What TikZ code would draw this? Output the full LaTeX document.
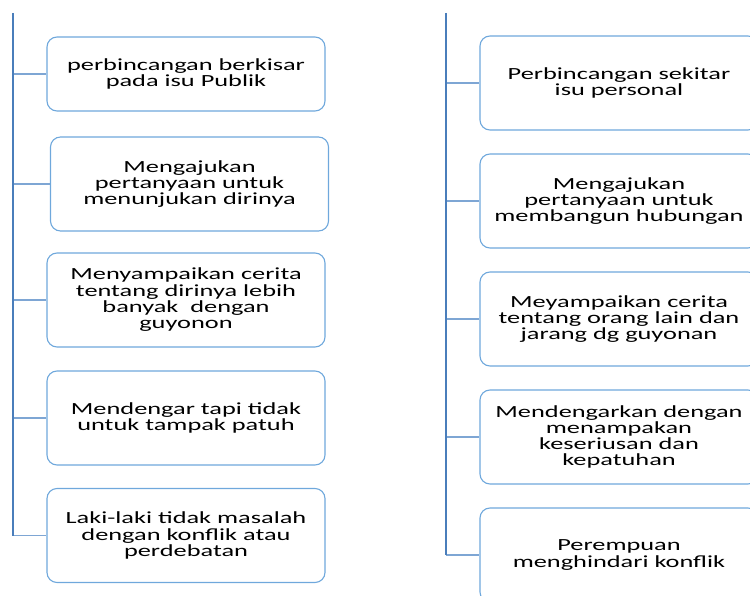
\documentclass[tikz,border=0pt]{standalone}
\usepackage{fontspec}
\setmainfont[FakeStretch=1.55]{Carlito}
\definecolor{stem}{HTML}{4A7EBB}
\definecolor{twig}{HTML}{7EA6D4}
\definecolor{rim}{HTML}{6FA8DC}
\begin{document}
\begin{tikzpicture}[x=1pt,y=-1pt,
  kotak/.style={draw=rim,line width=1.1pt,rounded corners=10pt,minimum width=278pt,align=center,
    font=\fontsize{17}{16.3}\selectfont,inner sep=0pt},
  batang/.style={stem,line width=1.8pt},
  ranting/.style={twig,line width=1.1pt}]
\clip (0,0) rectangle (750,596);
\useasboundingbox (0,0) rectangle (750,596);
\coordinate (ltop) at (13,13);
\coordinate (rtop) at (446,13);
\node[kotak,minimum height=74pt](l1)at(186,74){perbincangan berkisar\\pada isu Publik};
\node[kotak,minimum height=94pt](l2)at(189.5,184){Mengajukan\\pertanyaan untuk\\menunjukan dirinya};
\node[kotak,minimum height=94pt](l3)at(186,300){Menyampaikan cerita\\tentang dirinya lebih\\banyak\ \ dengan\\guyonon};
\node[kotak,minimum height=94pt](l4)at(186,418){Mendengar tapi tidak\\untuk tampak patuh};
\node[kotak,minimum height=94pt](l5)at(186,535.5){Laki-laki tidak masalah\\dengan konflik atau\\perdebatan};
\node[kotak,minimum height=94pt](r1)at(619,83){Perbincangan sekitar\\isu personal};
\node[kotak,minimum height=94pt](r2)at(619,201){Mengajukan\\pertanyaan untuk\\membangun hubungan};
\node[kotak,minimum height=94pt](r3)at(619,319){Meyampaikan cerita\\tentang orang lain dan\\jarang dg guyonan};
\node[kotak,minimum height=94pt](r4)at(619,437){Mendengarkan dengan\\menampakan\\keseriusan dan\\kepatuhan};
\node[kotak,minimum height=94pt](r5)at(619,555){Perempuan\\menghindari konflik};
\foreach \b in {l1,l2,l3,l4,l5}
  \draw[ranting] (ltop |- \b.west) -- (\b.west);
\foreach \b in {r1,r2,r3,r4,r5}
  \draw[ranting] (rtop |- \b.west) -- (\b.west);
\draw[batang] (ltop) -- (ltop |- l5.west);
\draw[batang] (rtop) -- (rtop |- r5.west);
\end{tikzpicture}
\end{document}
